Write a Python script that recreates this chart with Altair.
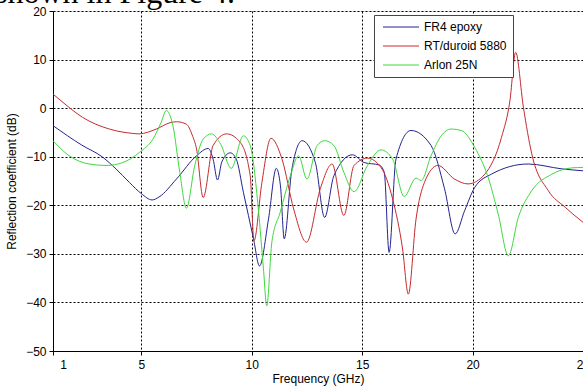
import altair as alt
import pandas as pd

series_names = ["FR4 epoxy", "RT/duroid 5880", "Arlon 25N"]
series_colors = ["#23238f", "#c62a2e", "#3fd83f"]

fr4_f = [1, 2.3, 3.25, 3.85, 4.46, 5.0, 5.49, 5.8, 6.59, 7.5, 8.03, 8.25, 8.45, 8.65, 9.03, 9.3, 9.62, 10.08, 10.35,
         10.76, 11.11, 11.3, 11.47, 11.82, 12.28, 12.88, 13.3, 13.72, 14.56, 15.09, 15.77, 16.0, 16.22, 16.53, 17.21,
         18.12, 18.73, 19.21, 19.64, 20.1, 20.85, 22.52, 24.04, 25]
fr4_v = [-3.6, -7.6, -10.1, -12.5, -15.3, -17.6, -18.9, -18.3, -14.6, -9.8, -8.3, -10.5, -14.8, -11.0, -9.2, -10.5,
         -17.3, -26.9, -32.5, -22.8, -12.4, -16.0, -26.9, -12.5, -6.7, -11.2, -22.5, -13.9, -9.6, -11.2, -11.7, -13.2,
         -29.7, -10.5, -4.6, -7.7, -16.6, -25.9, -21.1, -16.3, -13.6, -11.5, -12.5, -12.9]

rt_f = [1, 1.5, 2.34, 3.55, 4.61, 4.9, 5.68, 6.3, 6.59, 7.04, 7.3, 7.5, 7.8, 8.25, 8.86, 9.47, 9.93, 10.1, 10.46,
        10.87, 11.37, 11.9, 12.48, 13.11, 13.64, 14.17, 14.63, 15.24, 15.85, 16.38, 16.83, 17.09, 17.44, 17.82, 18.43,
        19.18, 19.79, 20.55, 21.31, 21.69, 21.95, 22.3, 22.68, 23.43, 24.19, 25]
rt_v = [2.9, 1.0, -1.9, -4.3, -5.2, -5.3, -4.3, -3.0, -2.8, -3.3, -5.5, -8.4, -18.4, -7.7, -5.3, -7.0, -13.9, -27.3,
        -15.3, -6.2, -10.5, -20.8, -27.6, -16.5, -11.5, -22.1, -11.8, -10.3, -12.2, -18.7, -29.0, -38.3, -22.8, -15.3,
        -11.8, -14.6, -15.6, -13.6, -6.0, 1.5, 11.5, 0.2, -9.4, -17.0, -20.4, -23.5]

arlon_f = [1, 1.73, 2.64, 3.4, 4.16, 4.92, 5.52, 5.9, 6.13, 6.43, 6.74, 7.04, 7.42, 7.8, 8.18, 8.6, 9.07, 9.62, 9.93,
           10.3, 10.53, 10.68, 10.91, 11.29, 11.75, 12.12, 12.5, 12.96, 13.3, 13.72, 14.17, 14.63, 15.24, 15.85, 16.38,
           16.9, 17.44, 17.67, 18.12, 18.58, 19.03, 19.49, 20.1, 20.7, 21.16, 21.62, 22.07, 22.68, 23.59, 24.5, 25]
arlon_v = [-6.7, -9.8, -11.5, -11.8, -11.2, -9.1, -6.4, -2.9, -0.5, -3.6, -13.2, -20.6, -11.8, -6.4, -5.3, -7.5, -12.4,
           -5.7, -7.7, -20.8, -33.1, -40.7, -27.6, -21.4, -13.9, -9.8, -14.6, -7.7, -6.7, -7.7, -13.2, -17.2, -11.8,
           -8.6, -10.5, -18.2, -14.4, -14.9, -9.8, -5.7, -4.3, -4.6, -8.1, -14.2, -21.8, -30.4, -22.5, -17.0, -13.6,
           -12.3, -12.2]

x_ticks = [1, 5, 10, 15, 20, 25]
y_ticks = [-50, -40, -30, -20, -10, 0, 10, 20]
note_text = ["shown in Figure 4."]

rows = []
for name, fs, vs in [(series_names[0], fr4_f, fr4_v), (series_names[1], rt_f, rt_v), (series_names[2], arlon_f, arlon_v)]:
    for i, (f, v) in enumerate(zip(fs, vs)):
        rows.append({"series": name, "f": f, "v": v, "i": i})
df = pd.DataFrame(rows)

FONT = "Liberation Sans"

lines = alt.Chart(df).mark_line(strokeWidth=1, interpolate="monotone", clip=True).encode(
    x=alt.X("f:Q", scale=alt.Scale(domain=[1, 25], nice=False, zero=False),
            axis=alt.Axis(values=x_ticks, title="Frequency (GHz)", grid=True,
                          gridColor="#000", gridDash=[2, 2], gridOpacity=1, gridWidth=1,
                          domainColor="#000", tickColor="#000", tickSize=4,
                          labelFont=FONT, labelFontSize=12, labelColor="#000", labelPadding=4,
                          labelOffset={"expr": "datum.value == 1 ? 10 : 0"},
                          labelFlush=False, labelOverlap=False,
                          titleFont=FONT, titleFontSize=12, titleFontWeight="normal", titleColor="#000",
                          titlePadding=3)),
    y=alt.Y("v:Q", scale=alt.Scale(domain=[-50, 20], nice=False, zero=False),
            axis=alt.Axis(values=y_ticks, title="Reflection coefficient (dB)", grid=True,
                          gridColor="#000", gridDash=[2, 2], gridOpacity=1, gridWidth=1,
                          domainColor="#000", tickColor="#000", tickSize=4,
                          labelFont=FONT, labelFontSize=12, labelColor="#000", labelPadding=3,
                          labelFlush=False, labelOverlap=False,
                          titleFont=FONT, titleFontSize=12, titleFontWeight="normal", titleColor="#000",
                          titlePadding=7)),
    color=alt.Color("series:N", scale=alt.Scale(domain=series_names, range=series_colors),
                    legend=alt.Legend(title=None, orient="none", legendX=321, legendY=4,
                                      symbolType="M-1,0H11", symbolSize=36, symbolStrokeWidth=1,
                                      labelFont=FONT, labelFontSize=12, labelColor="#000",
                                      strokeColor="#444", fillColor="white", padding=6,
                                      rowPadding=7, labelOffset=32, cornerRadius=0)),
    order="i:Q",
)

note = alt.Chart(pd.DataFrame({"t": note_text})).mark_text(
    font="Liberation Serif", fontSize=32, align="left", baseline="alphabetic", color="#000"
).encode(x=alt.value(-58), y=alt.value(-8), text="t:N")

chart = alt.layer(lines, note).properties(
    width=530, height=340,
    autosize=alt.AutoSizeParams(type="none"),
    padding={"left": 53, "top": 11, "right": 0, "bottom": 38},
).configure_view(stroke="#000", strokeWidth=1).configure(background="white")

chart.save("out.html", embed_options={"renderer": "svg", "actions": False})
